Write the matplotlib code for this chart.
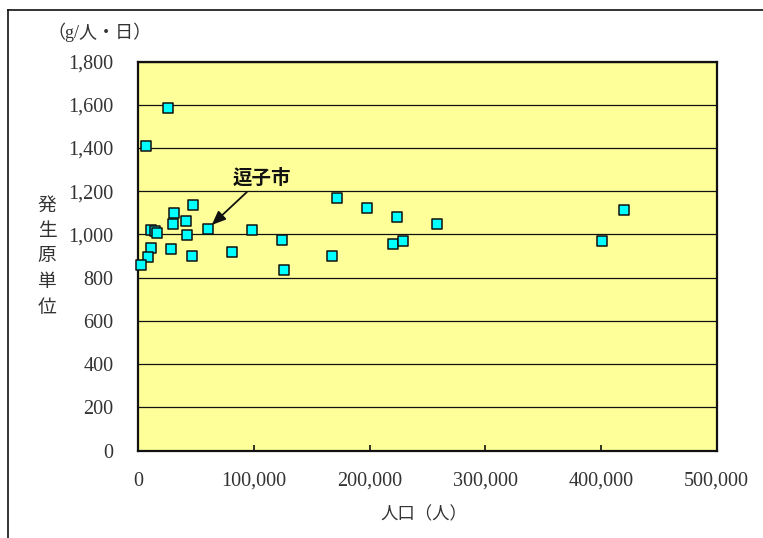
import matplotlib
matplotlib.use("Agg")
import matplotlib.pyplot as plt
from matplotlib.lines import Line2D

# population (persons) and per-capita waste generation (g/person/day)
population = [26000, 6700, 47600, 31100, 41000, 29800, 60000, 10700, 14700,
              16400, 42400, 98600, 171600, 197600, 223500, 258100, 124600,
              220600, 229200, 10700, 28500, 8100, 46500, 80800, 167300,
              2600, 126000, 420100, 400900]
unit_rate = [1586, 1409, 1136, 1101, 1064, 1050, 1027, 1021, 1016,
             1008, 997, 1021, 1167, 1124, 1079, 1050, 974,
             954, 968, 939, 931, 896, 902, 917, 902,
             859, 837, 1114, 968]

zushi_population = 60000
zushi_rate = 1027

x_ticks = [0, 100000, 200000, 300000, 400000, 500000]
x_tick_labels = ["0", "100,000", "200,000", "300,000", "400,000", "500,000"]
y_ticks = [0, 200, 400, 600, 800, 1000, 1200, 1400, 1600, 1800]
y_tick_labels = ["0", "200", "400", "600", "800", "1,000", "1,200",
                 "1,400", "1,600", "1,800"]

W, H = 763, 538
CJK = ["Noto Sans CJK JP", "DejaVu Sans"]
NUM = ["Liberation Serif", "Noto Sans CJK JP"]
TEXT_C = "#333333"

fig = plt.figure(figsize=(W / 100, H / 100), dpi=100)
fig.patch.set_facecolor("white")

left, right, top, bottom = 138.3, 716.5, 61.5, 450.7
ax = fig.add_axes([left / W, (H - bottom) / H, (right - left) / W, (bottom - top) / H])
ax.set_facecolor("#FFFF99")

ax.set_xlim(0, 500000)
ax.set_ylim(0, 1800)

ax.set_yticks(y_ticks)
ax.set_yticklabels(y_tick_labels, family=NUM, fontsize=14.5, color=TEXT_C)
ax.set_xticks(x_ticks)
ax.set_xticklabels(x_tick_labels, family=NUM, fontsize=14.5, color=TEXT_C)
ax.tick_params(axis="x", direction="in", length=4, width=1.2, pad=15, color="#111111")
ax.tick_params(axis="y", direction="in", length=0, pad=18)

ax.grid(axis="y", color="#111111", linewidth=0.9)
ax.set_axisbelow(True)
for s in ax.spines.values():
    s.set_linewidth(1.6)
    s.set_color("#111111")

ax.scatter(population, unit_rate, marker="s", s=48, facecolor="#00FFFF",
           edgecolor="#111111", linewidth=1.1, zorder=3, clip_on=False)

ax.annotate("逗子市", xy=(zushi_population + 3500, zushi_rate + 17),
            xytext=(107000, 1262), ha="center", va="center",
            family=CJK, fontsize=14, fontweight="bold", color="#111111",
            arrowprops=dict(arrowstyle="-|>,head_length=0.6,head_width=0.25",
                            color="#111111", lw=1.3, shrinkA=2, shrinkB=0))

# axis titles
fig.text(100 / W, 1 - 32 / H, "（g/人・日）", family=NUM, fontsize=13,
         ha="center", va="center", color=TEXT_C)
fig.text(424 / W, 1 - 514 / H, "人口（人）", family=CJK, fontsize=12.5,
         ha="center", va="center", color=TEXT_C)
for i, ch in enumerate("発生原単位"):
    fig.text(47 / W, 1 - (205 + 25.5 * i) / H, ch, family=CJK, fontsize=13.5,
             ha="center", va="center", color=TEXT_C)

# outer frame
fig.add_artist(Line2D([8 / W, 8 / W], [0, 1 - 10 / H], transform=fig.transFigure,
                      color="#111111", linewidth=1.2))
fig.add_artist(Line2D([8 / W, 1], [1 - 10 / H, 1 - 10 / H], transform=fig.transFigure,
                      color="#111111", linewidth=1.2))

fig.savefig("out.png", dpi=100)
